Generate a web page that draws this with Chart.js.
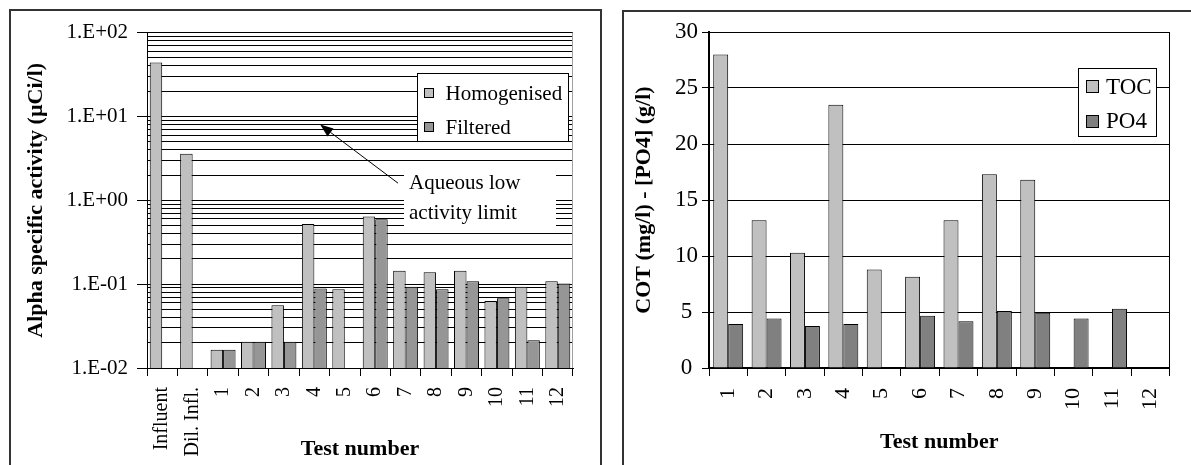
<!DOCTYPE html>
<html>
<head>
<meta charset="utf-8">
<script src="https://cdn.jsdelivr.net/npm/chart.js@4.4.0/dist/chart.umd.min.js"></script>
<style>
html,body{margin:0;padding:0;background:#fff;overflow:hidden;width:1191px;height:465px;}
.panel{position:absolute;border:2px solid #333;border-bottom:none;box-sizing:border-box;}
#p1{left:9px;top:9px;width:593px;height:470px;}
#p2{left:622px;top:10px;width:600px;height:470px;}
.cw{position:absolute;}
#c1w{left:11px;top:11px;width:589px;height:454px;}
#c2w{left:624px;top:12px;width:565px;height:453px;}
</style>
</head>
<body>
<div class="panel" id="p1"></div>
<div class="panel" id="p2"></div>
<div class="cw" id="c1w"><canvas id="c1"></canvas></div>
<div class="cw" id="c2w"><canvas id="c2"></canvas></div>
<script>
// ---- Left chart data ----
const leftCategories = ['Influent', 'Dil. Infl.', '1', '2', '3', '4', '5', '6', '7', '8', '9', '10', '11', '12'];
const homogenised = [44, 3.6, 0.0165, 0.0205, 0.056, 0.52, 0.087, 0.64, 0.144, 0.139, 0.144, 0.063, 0.093, 0.108];
const filtered = [null, null, 0.0165, 0.0205, 0.0205, 0.089, null, 0.595, 0.093, 0.087, 0.108, 0.068, 0.0215, 0.102];
const leftTickValues = [0.01, 0.1, 1, 10, 100];
const leftTickLabels = ['1.E-02', '1.E-01', '1.E+00', '1.E+01', '1.E+02'];
const leftSeriesNames = ['Homogenised', 'Filtered'];
const leftYTitle = 'Alpha specific activity (\u00B5Ci/l)';
const xTitle = 'Test number';
const noteLines = ['Aqueous low', 'activity limit'];
const noteArrowTip = [5.19, 8];      // [category index, value]
const noteArrowTail = [7.75, 1.6];   // [category index, value]

// ---- Right chart data ----
const rightCategories = ['1', '2', '3', '4', '5', '6', '7', '8', '9', '10', '11', '12'];
const toc = [28.0, 13.2, 10.3, 23.5, 8.8, 8.15, 13.2, 17.3, 16.8, null, null, null];
const po4 = [3.93, 4.43, 3.75, 3.93, null, 4.67, 4.17, 5.09, 4.94, 4.43, 5.3, null];
const rightSeriesNames = ['TOC', 'PO4'];
const rightYTitle = 'COT (mg/l) - [PO4] (g/l)';
const rightTicks = [0, 5, 10, 15, 20, 25, 30];

const SERIF = '"Liberation Serif", "Times New Roman", serif';
const LIGHT = '#C0C0C0', MID = '#969696', DARK = '#808080';

const frameRight = {
  id: 'frameRight',
  afterDatasetsDraw(chart, args, opts) {
    const {ctx, chartArea: a} = chart;
    ctx.save();
    ctx.strokeStyle = opts.color || '#000';
    ctx.lineWidth = 1;
    const x = Math.round(a.right) - 0.5;
    ctx.beginPath(); ctx.moveTo(x, a.top); ctx.lineTo(x, a.bottom); ctx.stroke();
    ctx.restore();
  }
};

// Legend box drawn inside the plot, built from the chart's datasets
const boxLegend = {
  id: 'boxLegend',
  afterDraw(chart, args, o) {
    const ctx = chart.ctx;
    ctx.save();
    ctx.fillStyle = '#fff';
    ctx.fillRect(o.x, o.y, o.w, o.h);
    ctx.strokeStyle = '#000'; ctx.lineWidth = 1;
    ctx.strokeRect(o.x + 0.5, o.y + 0.5, o.w - 1, o.h - 1);
    ctx.font = o.size + 'px ' + SERIF;
    ctx.textBaseline = 'alphabetic';
    ctx.textAlign = 'left';
    chart.data.datasets.forEach((ds, i) => {
      ctx.fillStyle = ds.backgroundColor;
      ctx.fillRect(o.swX, o.swY[i], o.sw, o.sw);
      ctx.strokeRect(o.swX + 0.5, o.swY[i] + 0.5, o.sw - 1, o.sw - 1);
      ctx.fillStyle = '#000';
      ctx.fillText(ds.label, o.txtX, o.base[i]);
    });
    ctx.restore();
  }
};

const arrowNote = {
  id: 'arrowNote',
  afterDraw(chart, args, o) {
    const xs = chart.scales.x, ys = chart.scales.y, ctx = chart.ctx;
    ctx.save();
    // white text box
    ctx.fillStyle = '#fff';
    ctx.fillRect(o.x, o.y, o.w, o.h);
    ctx.fillStyle = '#000';
    ctx.font = o.size + 'px ' + SERIF;
    ctx.textBaseline = 'alphabetic'; ctx.textAlign = 'left';
    noteLines.forEach((t, i) => ctx.fillText(t, o.x + 5, o.base[i]));
    // arrow
    const tx = xs.getPixelForValue(noteArrowTip[0]), ty = ys.getPixelForValue(noteArrowTip[1]);
    const sx = xs.getPixelForValue(noteArrowTail[0]), sy = ys.getPixelForValue(noteArrowTail[1]);
    const ang = Math.atan2(ty - sy, tx - sx);
    const L = 13, W = 5;
    const bx = tx - L * Math.cos(ang), by = ty - L * Math.sin(ang);
    ctx.strokeStyle = '#000'; ctx.lineWidth = 1;
    ctx.beginPath(); ctx.moveTo(sx, sy); ctx.lineTo(bx, by); ctx.stroke();
    ctx.beginPath();
    ctx.moveTo(tx, ty);
    ctx.lineTo(bx + W * Math.sin(ang), by - W * Math.cos(ang));
    ctx.lineTo(bx - W * Math.sin(ang), by + W * Math.cos(ang));
    ctx.closePath(); ctx.fill();
    ctx.restore();
  }
};

// ---- Left chart ----
new Chart(document.getElementById('c1'), {
  type: 'bar',
  data: {
    labels: leftCategories,
    datasets: [
      {label: leftSeriesNames[0], data: homogenised, backgroundColor: LIGHT, borderColor: '#000', borderWidth: 1, categoryPercentage: 0.82, barPercentage: 1.0},
      {label: leftSeriesNames[1], data: filtered, backgroundColor: MID, borderColor: '#000', borderWidth: 1, categoryPercentage: 0.82, barPercentage: 1.0}
    ]
  },
  options: {
    responsive: true, maintainAspectRatio: false, animation: false, devicePixelRatio: 1,
    layout: {padding: {top: 21, right: 27, left: 0, bottom: 0}},
    plugins: {
      legend: {display: false}, tooltip: {enabled: false}, frameRight: {color: '#A0A0A0'},
      boxLegend: {x: 406, y: 62, w: 152, h: 69, size: 21, swX: 413, swY: [77, 111], sw: 10, txtX: 434.5, base: [89, 122.5]},
      arrowNote: {x: 393, y: 156, w: 152, h: 60, size: 21, base: [178, 208]}
    },
    scales: {
      x: {
        grid: {display: true, drawOnChartArea: false, drawTicks: true, tickLength: 8, color: '#000', offset: true},
        border: {display: true, color: '#000', width: 1},
        ticks: {autoSkip: false, minRotation: 90, maxRotation: 90, padding: 11, color: '#000', font: {family: SERIF, size: 20}},
        title: {display: true, text: xTitle, color: '#000', font: {family: SERIF, size: 22, weight: 'bold'}, padding: {top: 0, bottom: 2.5}},
        afterFit(s) { s.height = 97; }
      },
      y: {
        type: 'logarithmic', min: leftTickValues[0], max: leftTickValues[leftTickValues.length - 1],
        afterBuildTicks(s) {
          const t = [];
          leftTickValues.forEach((v, i) => {
            t.push({value: v, lbl: leftTickLabels[i]});
            if (i < leftTickValues.length - 1) {
              for (let k = 2; k <= 9; k++) t.push({value: Number((v * k).toPrecision(6)), lbl: ''});
            }
          });
          s.ticks = t;
        },
        grid: {color: '#000', lineWidth: 1, tickLength: 10,
          tickColor: (c) => (c.tick && c.tick.lbl) ? '#000' : 'rgba(0,0,0,0)'},
        border: {display: true, color: '#000', width: 1},
        ticks: {autoSkip: false, padding: 9, color: '#000', font: {family: SERIF, size: 21},
          callback: (v, i, ticks) => ticks[i].lbl || ''},
        title: {display: true, text: leftYTitle, color: '#000', font: {family: SERIF, size: 22, weight: 'bold'}, padding: {top: 12, bottom: 0}},
        afterFit(s) { s.width = 136; }
      }
    }
  },
  plugins: [frameRight, arrowNote, boxLegend]
});

// ---- Right chart ----
new Chart(document.getElementById('c2'), {
  type: 'bar',
  data: {
    labels: rightCategories,
    datasets: [
      {label: rightSeriesNames[0], data: toc, backgroundColor: LIGHT, borderColor: '#000', borderWidth: 1, categoryPercentage: 0.78, barPercentage: 1.0},
      {label: rightSeriesNames[1], data: po4, backgroundColor: DARK, borderColor: '#000', borderWidth: 1, categoryPercentage: 0.78, barPercentage: 1.0}
    ]
  },
  options: {
    responsive: true, maintainAspectRatio: false, animation: false, devicePixelRatio: 1,
    layout: {padding: {top: 20, right: 5, left: 0, bottom: 0}},
    plugins: {
      legend: {display: false}, tooltip: {enabled: false}, frameRight: {color: '#000'},
      boxLegend: {x: 454, y: 56, w: 79, h: 69, size: 23, swX: 462, swY: [68, 103], sw: 13, txtX: 482, base: [82, 115.5]}
    },
    scales: {
      x: {
        grid: {display: true, drawOnChartArea: false, drawTicks: true, tickLength: 8, color: '#000', offset: true},
        border: {display: true, color: '#000', width: 2},
        ticks: {autoSkip: false, minRotation: 90, maxRotation: 90, padding: 12, color: '#000', font: {family: SERIF, size: 22}},
        title: {display: true, text: xTitle, color: '#000', font: {family: SERIF, size: 22, weight: 'bold'}, padding: {top: 0, bottom: 9}},
        afterFit(s) { s.height = 97; }
      },
      y: {
        min: rightTicks[0], max: rightTicks[rightTicks.length - 1],
        afterBuildTicks(s) { s.ticks = rightTicks.map(v => ({value: v})); },
        grid: {color: '#000', lineWidth: 1, tickLength: 7, tickColor: '#000'},
        border: {display: true, color: '#000', width: 2},
        ticks: {padding: 4, crossAlign: 'center', color: '#000', font: {family: SERIF, size: 23}},
        title: {display: true, text: rightYTitle, color: '#000', font: {family: SERIF, size: 22, weight: 'bold'}, padding: {top: 7, bottom: 0}},
        afterFit(s) { s.width = 85; }
      }
    }
  },
  plugins: [frameRight, boxLegend]
});
</script>
</body>
</html>
